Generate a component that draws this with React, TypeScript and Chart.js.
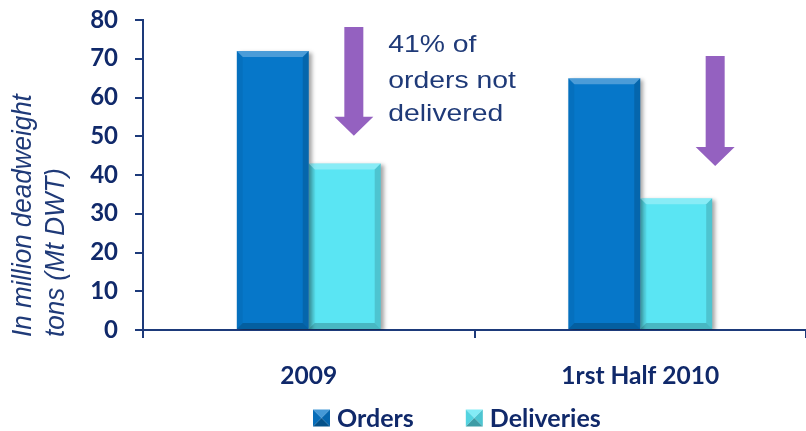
import React, { useEffect, useRef } from 'react';
import { Chart, registerables } from 'chart.js';

Chart.register(...registerables);

// ---- data ----
const categories = ['2009', '1rst Half 2010'];
const seriesNames = ['Orders', 'Deliveries'];
const ordersValues = [72, 65];
const deliveriesValues = [43, 34];
const yMin = 0;
const yMax = 80;
const yStep = 10;
const yTitleLines = ['In million deadweight', 'tons (Mt DWT)'];
const noteLines = ['41% of', 'orders not', 'delivered'];
const noteX = 0.24; // category units
const noteBaselines = [71.7, 62.5, 53.9]; // value units
const arrowXs = [0.136, 1.226]; // category units
const arrowTops = [78.2, 70.7]; // value units
const arrowTips = [50.1, 42.3]; // value units

// ---- style ----
const NAVY = '#10296a';
const AXIS = '#1d3a7a';
const TEXT_BLUE = '#1f3a78';
const ORDERS_COLOR = '#0677c9';
const DELIV_COLOR = '#5ae5f3';
const ARROW_COLOR = '#9461c0';
const SERIES_COLORS = [ORDERS_COLOR, DELIV_COLOR];

function shade(hex: string, amt: number): string {
  const n = parseInt(hex.slice(1), 16);
  let r = (n >> 16) & 255, g = (n >> 8) & 255, b = n & 255;
  const f = (c: number) => {
    const v = amt >= 0 ? c + (255 - c) * amt : c * (1 + amt);
    return Math.max(0, Math.min(255, Math.round(v)));
  };
  r = f(r); g = f(g); b = f(b);
  return `rgb(${r},${g},${b})`;
}

function poly(ctx: CanvasRenderingContext2D, pts: number[][], fill: string) {
  ctx.beginPath();
  ctx.moveTo(pts[0][0], pts[0][1]);
  for (let i = 1; i < pts.length; i++) ctx.lineTo(pts[i][0], pts[i][1]);
  ctx.closePath();
  ctx.fillStyle = fill;
  ctx.fill();
}

function drawIcon(ctx: CanvasRenderingContext2D, x: number, y: number, s: number, color: string) {
  const mx = x + s / 2, my = y + s / 2;
  poly(ctx, [[x, y], [x + s, y], [mx, my]], shade(color, 0.25));
  poly(ctx, [[x, y], [mx, my], [x, y + s]], shade(color, -0.08));
  poly(ctx, [[x + s, y], [x + s, y + s], [mx, my]], shade(color, -0.14));
  poly(ctx, [[x, y + s], [x + s, y + s], [mx, my]], shade(color, -0.32));
}

const bevelPlugin = {
  id: 'bevel',
  beforeDatasetsDraw(chart: any) {
    const ctx = chart.ctx;
    ctx.save();
    ctx.shadowColor = 'rgba(0,0,0,0.35)';
    ctx.shadowOffsetX = 3;
    ctx.shadowOffsetY = 2;
    ctx.shadowBlur = 4;
  },
  afterDatasetsDraw(chart: any) {
    const ctx = chart.ctx;
    ctx.restore();
    const b = 6;
    chart.data.datasets.forEach((ds: any, di: number) => {
      const meta = chart.getDatasetMeta(di);
      meta.data.forEach((bar: any) => {
        const { x, y, base, width } = bar.getProps(['x', 'y', 'base', 'width'], true);
        const l = x - width / 2, r = x + width / 2, t = y, bt = base;
        ctx.save();
        poly(ctx, [[l, t], [r, t], [r - b, t + b], [l + b, t + b]], 'rgba(255,255,255,0.28)');
        poly(ctx, [[l, t], [l + b, t + b], [l + b, bt - b], [l, bt]], 'rgba(0,0,0,0.05)');
        poly(ctx, [[r, t], [r, bt], [r - b, bt - b], [r - b, t + b]], 'rgba(0,0,0,0.14)');
        poly(ctx, [[l, bt], [l + b, bt - b], [r - b, bt - b], [r, bt]], 'rgba(0,0,0,0.2)');
        ctx.restore();
      });
    });
  },
};

const overlayPlugin = {
  id: 'overlay',
  afterDraw(chart: any) {
    const ctx = chart.ctx;
    const xs = chart.scales.x;
    const ys = chart.scales.y;
    ctx.save();
    // y-axis title
    ctx.fillStyle = TEXT_BLUE;
    ctx.font = 'italic 26px "Liberation Sans", Arial, sans-serif';
    ctx.textAlign = 'left';
    ctx.textBaseline = 'middle';
    const titleStartY = ys.bottom + 7;
    const titleCenters = [23, 56];
    yTitleLines.forEach((line, i) => {
      ctx.save();
      ctx.translate(titleCenters[i], titleStartY);
      ctx.rotate(-Math.PI / 2);
      ctx.scale(1, 1.08);
      ctx.fillText(line, 0, 0);
      ctx.restore();
    });
    // arrows
    ctx.fillStyle = ARROW_COLOR;
    arrowXs.forEach((ax, i) => {
      const cx = xs.getPixelForValue(ax);
      const top = ys.getPixelForValue(arrowTops[i]);
      const tip = ys.getPixelForValue(arrowTips[i]);
      const sw = 9.5, hw = 19.5, hl = 19;
      ctx.beginPath();
      ctx.moveTo(cx - sw, top);
      ctx.lineTo(cx + sw, top);
      ctx.lineTo(cx + sw, tip - hl);
      ctx.lineTo(cx + hw, tip - hl);
      ctx.lineTo(cx, tip);
      ctx.lineTo(cx - hw, tip - hl);
      ctx.lineTo(cx - sw, tip - hl);
      ctx.closePath();
      ctx.fill();
    });
    // note text
    ctx.fillStyle = TEXT_BLUE;
    ctx.font = '24px "Liberation Sans", Arial, sans-serif';
    ctx.textAlign = 'left';
    ctx.textBaseline = 'alphabetic';
    const nx = xs.getPixelForValue(noteX);
    noteLines.forEach((line, i) => {
      const by = ys.getPixelForValue(noteBaselines[i]);
      ctx.save();
      ctx.translate(nx, by);
      ctx.scale(1.18, 1);
      ctx.fillText(line, 0, 0);
      ctx.restore();
    });
    // legend
    const iconSize = 17;
    const legendCenterY = 418;
    let lx = 313;
    ctx.font = 'bold 25px Lato, sans-serif';
    ctx.textBaseline = 'middle';
    seriesNames.forEach((name, i) => {
      drawIcon(ctx, lx, legendCenterY - iconSize / 2, iconSize, SERIES_COLORS[i]);
      ctx.fillStyle = NAVY;
      ctx.fillText(name, lx + iconSize + 7, legendCenterY + 1);
      lx += iconSize + 7 + ctx.measureText(name).width + 52;
    });
    ctx.restore();
  },
};

export default function App() {
  const ref = useRef<HTMLCanvasElement | null>(null);
  useEffect(() => {
    document.body.style.margin = '0';
    const canvas = ref.current!;
    const chart = new Chart(canvas, {
      type: 'bar',
      data: {
        labels: categories,
        datasets: [
          {
            label: seriesNames[0],
            data: ordersValues,
            backgroundColor: ORDERS_COLOR,
            borderWidth: 0,
            categoryPercentage: 0.434,
            barPercentage: 1.0,
          },
          {
            label: seriesNames[1],
            data: deliveriesValues,
            backgroundColor: DELIV_COLOR,
            borderWidth: 0,
            categoryPercentage: 0.434,
            barPercentage: 1.0,
          },
        ],
      },
      options: {
        animation: false,
        responsive: false,
        maintainAspectRatio: false,
        layout: { padding: { top: 20, left: 0, right: 0, bottom: 0 } },
        plugins: {
          tooltip: { enabled: false },
          legend: { display: false },
        },
        scales: {
          x: {
            offset: true,
            grid: {
              display: true,
              drawOnChartArea: false,
              drawTicks: true,
              tickLength: 8,
              color: AXIS,
              lineWidth: 2,
              offset: true,
            },
            border: { display: true, color: AXIS, width: 2 },
            ticks: {
              color: NAVY,
              padding: 23,
              font: { family: 'Lato', size: 24.5, weight: 'bold' },
            },
            afterFit: (s: any) => {
              s.height = 101;
            },
          },
          y: {
            min: yMin,
            max: yMax,
            grid: {
              display: true,
              drawOnChartArea: false,
              drawTicks: true,
              tickLength: 8,
              color: AXIS,
              lineWidth: 2,
            },
            border: { display: true, color: AXIS, width: 2 },
            ticks: {
              stepSize: yStep,
              color: NAVY,
              padding: 17,
              font: { family: 'Lato', size: 24, weight: 'bold' },
            },
            afterFit: (s: any) => {
              s.width = 143;
              s.paddingTop = 10;
              s.paddingBottom = 10;
            },
          },
        },
      },
      plugins: [bevelPlugin, overlayPlugin],
    } as any);
    return () => chart.destroy();
  }, []);
  return (
    <div style={{ width: 806, height: 431, overflow: 'hidden', background: '#fff' }}>
      <canvas ref={ref} width={806} height={431} style={{ display: 'block' }} />
    </div>
  );
}
